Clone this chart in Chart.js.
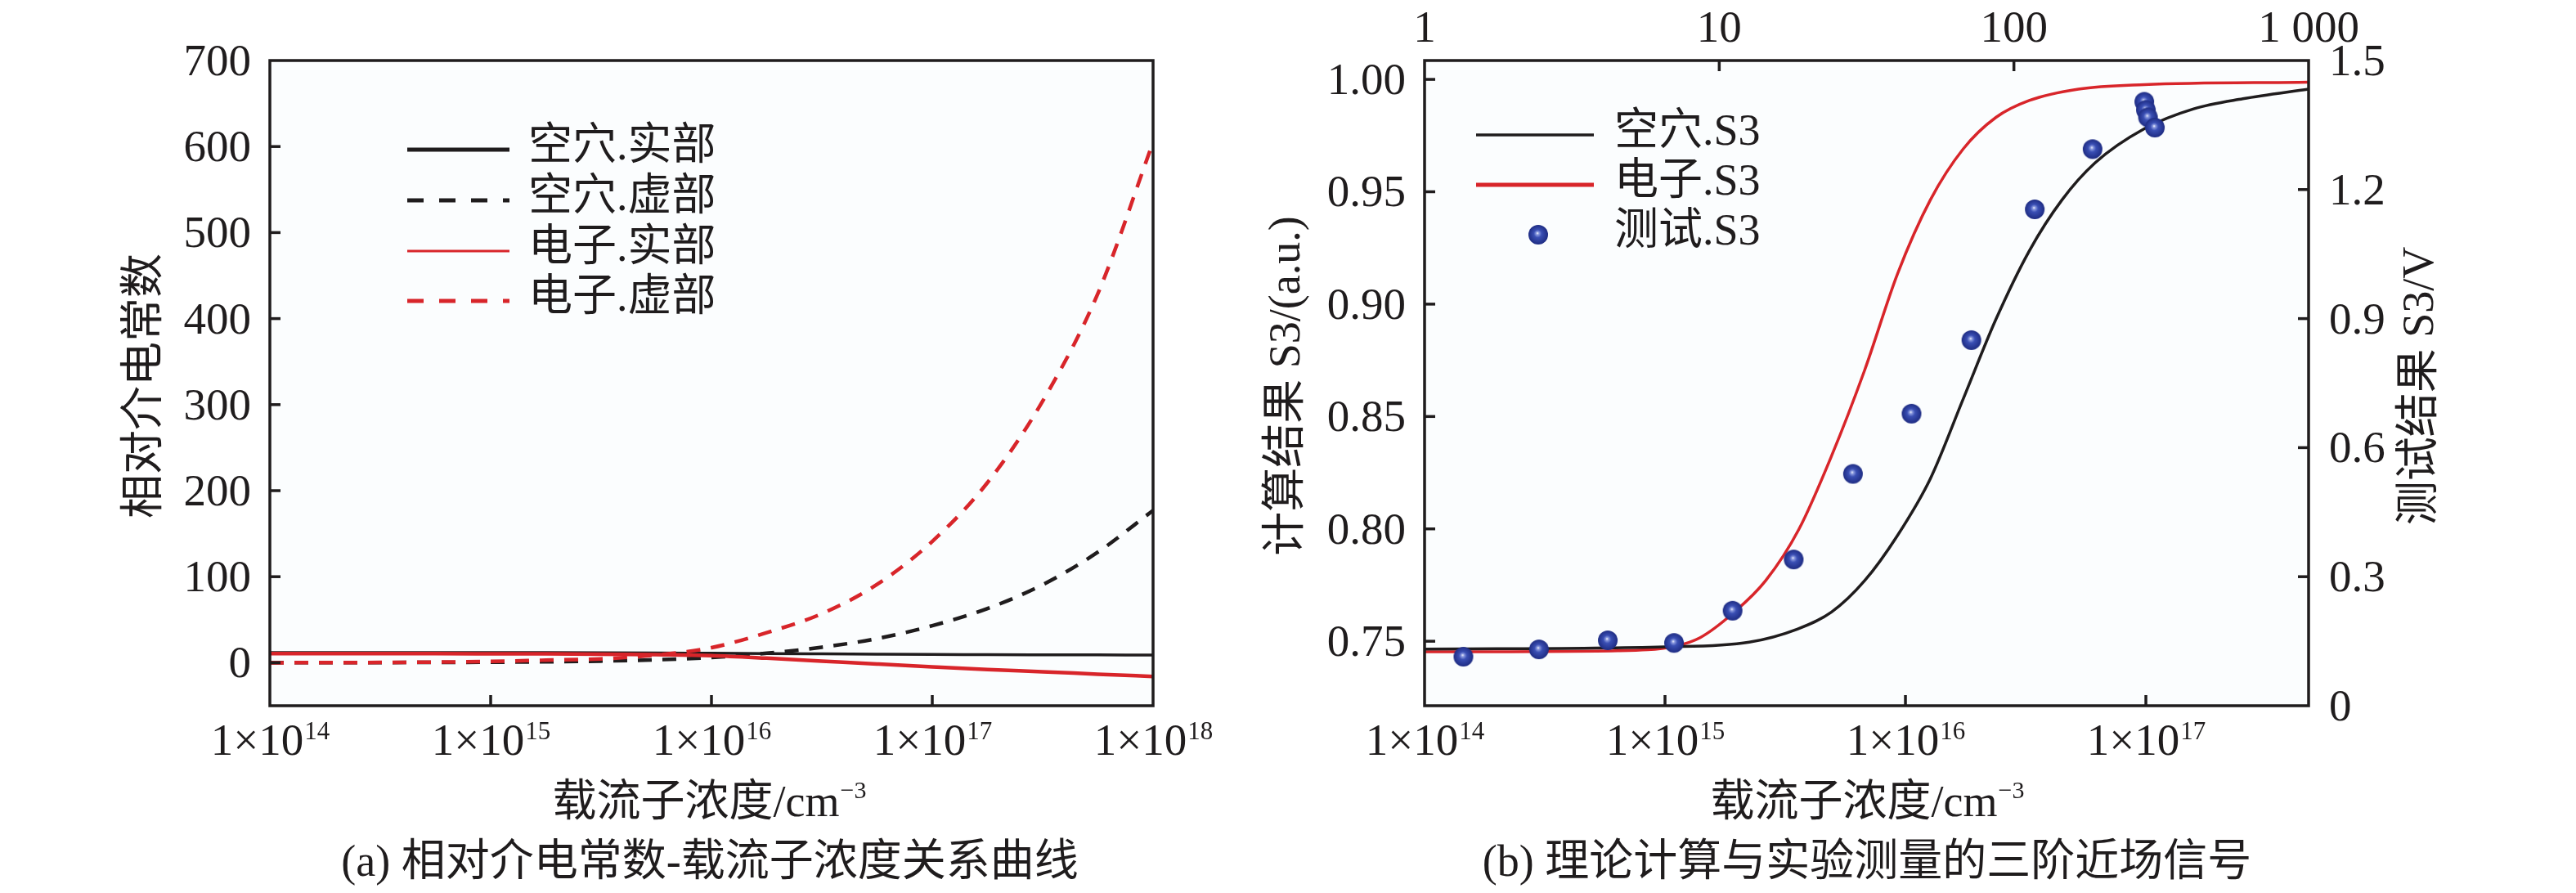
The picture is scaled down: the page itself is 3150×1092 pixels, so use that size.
<!DOCTYPE html>
<html>
<head>
<meta charset="utf-8">
<script src="https://cdn.jsdelivr.net/npm/chart.js@4.4.1/dist/chart.umd.min.js"></script>
<style>
  html, body { margin: 0; padding: 0; background: #fff; }
  #wrap { position: relative; width: 3150px; height: 1092px; background: #fff; overflow: hidden; }
  #chartA { position: absolute; left: 0; top: 0; }
  #chartB { position: absolute; left: 1500px; top: 0; }
</style>
</head>
<body>
<div id="wrap">
  <canvas id="chartA" width="1500" height="1092"></canvas>
  <canvas id="chartB" width="1650" height="1092"></canvas>
</div>
<script>
// ---- (a) relative permittivity vs carrier concentration ----
const carrierA = [1e14, 1.78e14, 3.16e14, 5.62e14, 1e15, 1.78e15, 3.16e15, 5.62e15,
                  1e16, 1.78e16, 3.16e16, 5.62e16, 1e17, 1.78e17, 3.16e17, 5.62e17, 1e18];
const holeReA = [11.7, 11.7, 11.7, 11.7, 11.7, 11.7, 11.6, 11.4, 11.0, 10.7, 10.3, 9.9, 9.6, 9.4, 9.2, 9.1, 9.0];
const holeImA = [0, 0.1, 0.2, 0.4, 0.6, 1.1, 1.9, 3.4, 6, 11, 18, 28, 43, 63, 90.7, 128.5, 177];
const elecReA = [10.5, 10.5, 10.5, 10.5, 10.4, 10.3, 10.0, 9.3, 8.2, 5.3, 1.9, -1.5, -4.8, -7.9, -10.5, -13.3, -16];
const elecImA = [0, 0.1, 0.3, 0.7, 1.5, 3, 4.5, 9, 17.5, 35, 57, 91, 141, 209.5, 304, 429, 605];
const xTicksA = [1e14, 1e15, 1e16, 1e17, 1e18];
const xExpA = ['14', '15', '16', '17', '18'];
const yTicksA = [0, 100, 200, 300, 400, 500, 600, 700];
const legendA = ['空穴.实部', '空穴.虚部', '电子.实部', '电子.虚部'];

// ---- (b) third-order near-field signal ----
const carrierHoleB = [1e14, 1e15, 2.24e15, 3.55e15, 4.93e15, 6.76e15, 9.27e15, 1.27e16, 1.74e16,
                      2.38e16, 3.27e16, 4.48e16, 6.14e16, 9.84e16, 1.58e17, 2.53e17, 4.75e17];
const holeS3 = [0.7465, 0.7475, 0.7496, 0.7554, 0.7630, 0.7769, 0.7971, 0.8224, 0.8579,
                0.8933, 0.9236, 0.9464, 0.9628, 0.9780, 0.9869, 0.9914, 0.9957];
const carrierElecB = [1e14, 6.37e14, 1.10e15, 1.40e15, 1.92e15, 2.62e15, 3.60e15, 4.93e15, 6.76e15,
                      9.27e15, 1.27e16, 1.74e16, 2.38e16, 3.27e16, 5.24e16, 9.84e16, 4.75e17];
const elecS3 = [0.7453, 0.7458, 0.7478, 0.7516, 0.7625, 0.7769, 0.7997, 0.8325, 0.8705,
                0.9135, 0.9464, 0.9691, 0.9831, 0.9906, 0.9957, 0.9977, 0.9988];
const carrierTest = [1.45e14, 2.99e14, 5.78e14, 1.09e15, 1.91e15, 3.43e15, 6.05e15, 1.06e16,
                     1.88e16, 3.45e16, 6.0e16, 9.85e16, 1.0e17, 1.02e17, 1.09e17];
const testS3V = [0.114, 0.131, 0.152, 0.146, 0.221, 0.340, 0.539, 0.679,
                 0.850, 1.154, 1.294, 1.404, 1.385, 1.368, 1.344];
const xTicksB = [1e14, 1e15, 1e16, 1e17];
const xExpB = ['14', '15', '16', '17'];
const topTicksB = [1, 10, 100, 1000];
const topLabelsB = ['1', '10', '100', '1 000'];
const yTicksB = [0.75, 0.80, 0.85, 0.90, 0.95, 1.00];
const y2TicksB = [0, 0.3, 0.6, 0.9, 1.2, 1.5];
const legendB = ['空穴.S3', '电子.S3', '测试.S3'];

const INK = '#1f1c1d';
const RED = '#d8252a';
const PLOT_FILL = '#fbfdfe';
const FONT = '"Liberation Serif", "Noto Sans CJK SC", serif';
const TICK = 13;

const pts = (xs, ys) => xs.map((x, i) => ({ x: x, y: ys[i] }));

// blue shaded ball for the measured points
function makeBall(r) {
  const c = document.createElement('canvas');
  c.width = c.height = r * 2 + 2;
  const g = c.getContext('2d');
  const cx = r + 1, cy = r + 1;
  const grad = g.createRadialGradient(cx - 1, cy - 2, 0, cx, cy, r);
  grad.addColorStop(0, '#ffffff');
  grad.addColorStop(0.14, '#8e9de0');
  grad.addColorStop(0.4, '#3a4fb4');
  grad.addColorStop(1, '#1e2c83');
  g.fillStyle = grad;
  g.beginPath();
  g.arc(cx, cy, r, 0, Math.PI * 2);
  g.fill();
  return c;
}
const ball = makeBall(12);

function supText(ctx, base, exp, x, y, size, expSize, rise) {
  ctx.font = size + 'px ' + FONT;
  const wb = ctx.measureText(base).width;
  ctx.font = expSize + 'px ' + FONT;
  const we = ctx.measureText(exp).width;
  const x0 = x - (wb + we) / 2;
  ctx.textAlign = 'left';
  ctx.textBaseline = 'alphabetic';
  ctx.font = size + 'px ' + FONT;
  ctx.fillText(base, x0, y);
  ctx.font = expSize + 'px ' + FONT;
  ctx.fillText(exp, x0 + wb + 1, y - rise);
}

function vText(ctx, text, x, y, size) {
  ctx.save();
  ctx.translate(x, y);
  ctx.rotate(-Math.PI / 2);
  ctx.font = size + 'px ' + FONT;
  ctx.textAlign = 'center';
  ctx.textBaseline = 'middle';
  ctx.fillText(text, 0, 0);
  ctx.restore();
}

function makeDeco(cfg) {
  return {
    id: 'deco',
    beforeDatasetsDraw(chart) {
      const { ctx, chartArea: a } = chart;
      ctx.save();
      ctx.fillStyle = PLOT_FILL;
      ctx.fillRect(a.left, a.top, a.right - a.left, a.bottom - a.top);
      ctx.restore();
    },
    afterDraw(chart) {
      const { ctx, chartArea: a } = chart;
      ctx.save();
      ctx.strokeStyle = INK;
      ctx.fillStyle = INK;
      ctx.lineWidth = 3.5;
      ctx.setLineDash([]);
      ctx.strokeRect(a.left, a.top, a.right - a.left, a.bottom - a.top);

      // ticks pointing into the plot
      cfg.ticks.forEach(t => {
        const s = chart.scales[t.id];
        t.values.forEach(v => {
          const p = s.getPixelForValue(v);
          ctx.beginPath();
          if (t.side === 'bottom') { ctx.moveTo(p, a.bottom); ctx.lineTo(p, a.bottom - TICK); }
          if (t.side === 'top') { ctx.moveTo(p, a.top); ctx.lineTo(p, a.top + TICK); }
          if (t.side === 'left') { ctx.moveTo(a.left, p); ctx.lineTo(a.left + TICK, p); }
          if (t.side === 'right') { ctx.moveTo(a.right, p); ctx.lineTo(a.right - TICK, p); }
          ctx.stroke();
        });
      });

      // tick labels
      cfg.labels.forEach(l => {
        const s = chart.scales[l.id];
        l.values.forEach((v, i) => {
          const p = s.getPixelForValue(v);
          if (l.exps) {
            supText(ctx, '1×10', l.exps[i], p, 923, 55, 31, 19);
            return;
          }
          ctx.font = '55px ' + FONT;
          ctx.textBaseline = 'alphabetic';
          if (l.side === 'left') { ctx.textAlign = 'right'; ctx.fillText(l.texts[i], a.left - 23, p + 18); }
          if (l.side === 'right') { ctx.textAlign = 'left'; ctx.fillText(l.texts[i], a.right + 25, p + 18); }
          if (l.side === 'top') { ctx.textAlign = 'center'; ctx.fillText(l.texts[i], p, 51); }
        });
      });

      // axis titles and caption
      supText(ctx, '载流子浓度/cm', '−3', cfg.xTitle[0], cfg.xTitle[1], 54, 30, 22);
      cfg.vTitles.forEach(t => vText(ctx, t[0], t[1], t[2], 54));
      ctx.font = '54px ' + FONT;
      ctx.textAlign = 'center';
      ctx.textBaseline = 'middle';
      ctx.fillText(cfg.caption[0], cfg.caption[1], cfg.caption[2]);

      // legend
      cfg.legend.forEach(e => {
        ctx.save();
        if (e.ball) {
          ctx.drawImage(ball, e.x0 + (e.x1 - e.x0) / 2 - ball.width / 2, e.y - ball.height / 2);
        } else {
          ctx.strokeStyle = e.color;
          ctx.lineWidth = e.width;
          ctx.setLineDash(e.dash || []);
          ctx.beginPath();
          ctx.moveTo(e.x0, e.y);
          ctx.lineTo(e.x1, e.y);
          ctx.stroke();
        }
        ctx.restore();
        ctx.font = '54px ' + FONT;
        ctx.textAlign = 'left';
        ctx.textBaseline = 'middle';
        ctx.fillText(e.text, e.tx, e.y - 2);
      });
      ctx.restore();
    }
  };
}

const hidden = { ticks: { display: false }, grid: { display: false }, border: { display: false } };

function buildCharts() {
  // ---------- chart (a) ----------
  new Chart(document.getElementById('chartA'), {
    type: 'line',
    data: {
      datasets: [
        { label: legendA[3], data: pts(carrierA, elecImA), borderColor: RED, borderWidth: 4.5, borderDash: [17, 13], order: 0 },
        { label: legendA[2], data: pts(carrierA, elecReA), borderColor: RED, borderWidth: 4.5, order: 1 },
        { label: legendA[1], data: pts(carrierA, holeImA), borderColor: INK, borderWidth: 4.5, borderDash: [17, 13], order: 2 },
        { label: legendA[0], data: pts(carrierA, holeReA), borderColor: INK, borderWidth: 3.5, order: 3 }
      ]
    },
    options: {
      responsive: false,
      animation: false,
      devicePixelRatio: 1,
      layout: { padding: { left: 0, top: 74, right: 90, bottom: 0 } },
      elements: { point: { radius: 0 }, line: { cubicInterpolationMode: 'monotone', fill: false } },
      scales: {
        x: Object.assign({ type: 'logarithmic', position: 'bottom', min: 1e14, max: 1e18,
          afterFit: s => { s.height = 229; } }, hidden),
        y: Object.assign({ type: 'linear', position: 'left', min: -50, max: 700,
          afterFit: s => { s.width = 330; } }, hidden)
      },
      plugins: { legend: { display: false }, tooltip: { enabled: false } }
    },
    plugins: [makeDeco({
      ticks: [
        { id: 'x', side: 'bottom', values: xTicksA.slice(1, -1) },
        { id: 'y', side: 'left', values: yTicksA.slice(0, -1) }
      ],
      labels: [
        { id: 'x', values: xTicksA, exps: xExpA },
        { id: 'y', side: 'left', values: yTicksA, texts: yTicksA.map(String) }
      ],
      xTitle: [867, 998],
      vTitles: [['相对介电常数', 179, 472]],
      caption: ['(a) 相对介电常数-载流子浓度关系曲线', 868, 1057],
      legend: [
        { text: legendA[0], color: INK, width: 5, x0: 498, x1: 623, y: 183, tx: 646 },
        { text: legendA[1], color: INK, width: 5, dash: [20, 19], x0: 498, x1: 623, y: 245, tx: 646 },
        { text: legendA[2], color: RED, width: 3, x0: 498, x1: 623, y: 307, tx: 646 },
        { text: legendA[3], color: RED, width: 5, dash: [20, 19], x0: 498, x1: 623, y: 368, tx: 646 }
      ]
    })]
  });

  // ---------- chart (b) ----------
  new Chart(document.getElementById('chartB'), {
    type: 'line',
    data: {
      datasets: [
        { label: legendB[2], data: pts(carrierTest, testS3V), yAxisID: 'y2', xAxisID: 'x',
          showLine: false, pointStyle: ball, pointRadius: 12, order: 0 },
        { label: legendB[0], data: pts(carrierHoleB, holeS3), yAxisID: 'y', xAxisID: 'x',
          borderColor: INK, borderWidth: 3.5, pointRadius: 0, order: 1 },
        { label: legendB[1], data: pts(carrierElecB, elecS3), yAxisID: 'y', xAxisID: 'x',
          borderColor: RED, borderWidth: 3.5, pointRadius: 0, order: 2 }
      ]
    },
    options: {
      responsive: false,
      animation: false,
      devicePixelRatio: 1,
      layout: { padding: 0 },
      elements: { line: { cubicInterpolationMode: 'monotone', fill: false } },
      scales: {
        x: Object.assign({ type: 'logarithmic', position: 'bottom', min: 1e14, max: 4.75e17,
          afterFit: s => { s.height = 229; } }, hidden),
        x2: Object.assign({ type: 'logarithmic', position: 'top', axis: 'x', min: 1, max: 1000,
          afterFit: s => { s.height = 74; } }, hidden),
        y: Object.assign({ type: 'linear', position: 'left', min: 0.7213, max: 1.0084,
          afterFit: s => { s.width = 242; } }, hidden),
        y2: Object.assign({ type: 'linear', position: 'right', min: 0, max: 1.5,
          afterFit: s => { s.width = 327; } }, hidden)
      },
      plugins: { legend: { display: false }, tooltip: { enabled: false } }
    },
    plugins: [makeDeco({
      ticks: [
        { id: 'x', side: 'bottom', values: xTicksB.slice(1) },
        { id: 'x2', side: 'top', values: topTicksB.slice(1, -1) },
        { id: 'y', side: 'left', values: yTicksB },
        { id: 'y2', side: 'right', values: y2TicksB.slice(1, -1) }
      ],
      labels: [
        { id: 'x', values: xTicksB, exps: xExpB },
        { id: 'x2', side: 'top', values: topTicksB, texts: topLabelsB },
        { id: 'y', side: 'left', values: yTicksB, texts: yTicksB.map(v => v.toFixed(2)) },
        { id: 'y2', side: 'right', values: y2TicksB, texts: y2TicksB.map(String) }
      ],
      xTitle: [783, 998],
      vTitles: [['计算结果 S3/(a.u.)', 75, 472], ['测试结果 S3/V', 1461, 472]],
      caption: ['(b) 理论计算与实验测量的三阶近场信号', 783, 1057],
      legend: [
        { text: legendB[0], color: INK, width: 3.5, x0: 305, x1: 449, y: 165, tx: 474 },
        { text: legendB[1], color: RED, width: 5, x0: 305, x1: 449, y: 226, tx: 474 },
        { text: legendB[2], ball: true, x0: 305, x1: 457, y: 287, tx: 474 }
      ]
    })]
  });
}

buildCharts();
</script>
</body>
</html>
